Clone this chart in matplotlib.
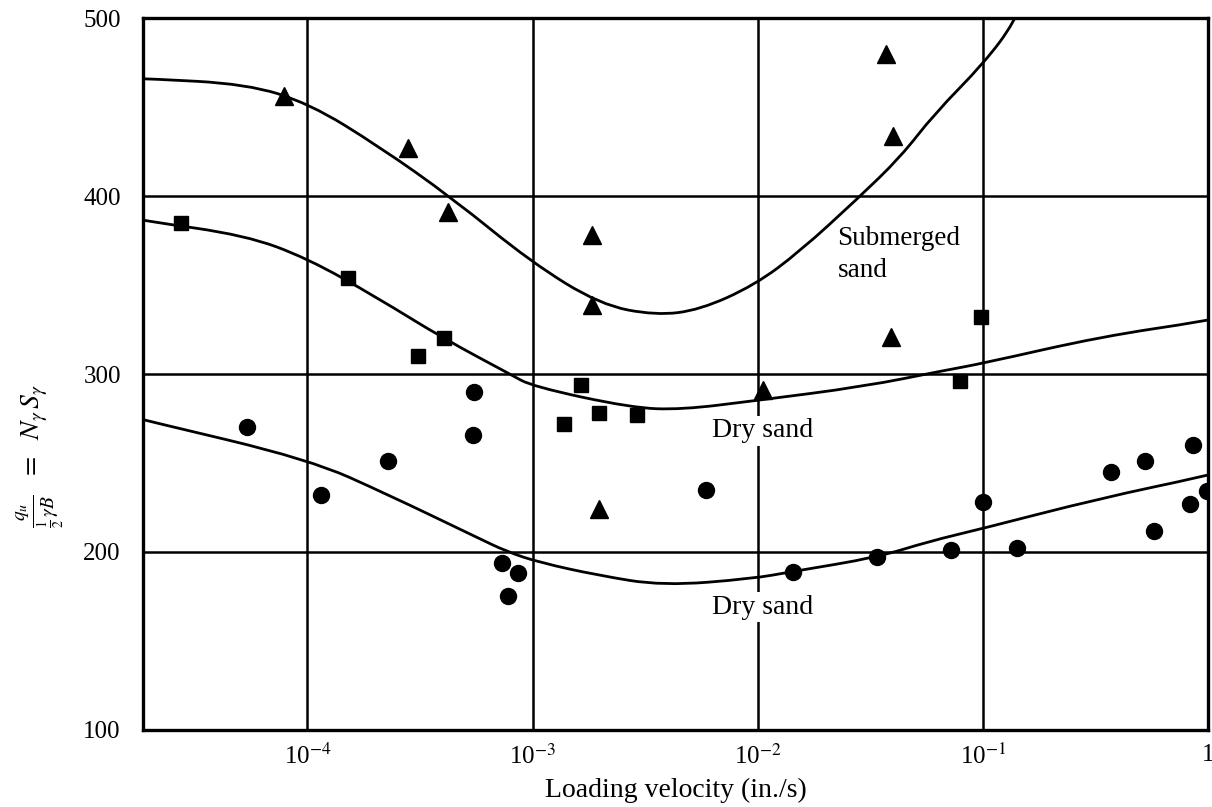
import numpy as np
import matplotlib
matplotlib.use("Agg")
import matplotlib.pyplot as plt
from matplotlib.path import Path
from matplotlib.patches import PathPatch
from matplotlib.ticker import FixedLocator, FixedFormatter, NullLocator

plt.rcParams['font.family'] = ['Liberation Serif', 'DejaVu Serif']
plt.rcParams['mathtext.fontset'] = 'stix'

# ---- data ----
# Submerged sand (triangles)
tri_x = [7.9e-5, 2.8e-4, 4.2e-4, 1.84e-3, 1.84e-3, 1.97e-3, 1.06e-2, 0.037, 0.040, 0.039]
tri_y = [456, 427, 391, 378, 339, 224, 291, 480, 434, 321]

# Dry sand, upper series (squares)
sq_x = [2.74e-5, 1.52e-4, 4.06e-4, 3.1e-4, 1.38e-3, 1.64e-3, 1.97e-3, 2.9e-3, 0.079, 0.098]
sq_y = [385, 354, 320, 310, 272, 294, 278, 277, 296, 332]

# Dry sand, lower series (circles)
ci_x = [5.4e-5, 1.15e-4, 2.28e-4, 5.47e-4, 5.45e-4, 7.3e-4, 8.6e-4, 7.8e-4, 5.9e-3, 0.0143,
        0.034, 0.072, 0.10, 0.142, 0.372, 0.527, 0.574, 0.86, 0.83, 0.99]
ci_y = [270, 232, 251, 290, 266, 194, 188, 175, 235, 189,
        197, 201, 228, 202, 245, 251, 212, 260, 227, 234]

# Hand-drawn trend curves (log10 of velocity)
sub_curve_logx = [-4.75, -4.711, -4.269, -3.991, -3.683, -3.358, -3.007, -2.700, -2.453, -2.258,
                  -2.013, -1.812, -1.561, -1.365, -1.217, -0.993, -0.858, -0.83]
sub_curve_y = [466, 466, 463, 452, 428, 399, 363, 339, 333, 336, 350, 369, 398, 422, 446, 475, 498, 508]

dry_curve_logx = [-4.75, -4.718, -4.276, -3.999, -3.691, -3.396, -3.101, -3.000, -2.559, -2.338,
                  -2.014, -1.527, -1.172, -1.000, -0.476, 0.0, 0.02]
dry_curve_y = [387, 386, 378, 365, 343, 320, 300, 293, 281, 280, 285, 293, 302, 306, 321, 330, 331]

low_curve_logx = [-4.75, -4.72, -3.991, -3.638, -3.260, -3.111, -2.965, -2.713, -2.422, -2.023,
                  -1.846, -1.469, -1.238, -1.007, -0.484, 0.0, 0.02]
low_curve_y = [275, 274, 252, 232, 209, 200, 194, 187, 181, 185, 189, 197, 206, 213, 230, 243, 244]

xtick_vals = [1e-4, 1e-3, 1e-2, 1e-1, 1]
xtick_labels = ['10$^{-4}$', '10$^{-3}$', '10$^{-2}$', '10$^{-1}$', '1']
ytick_vals = [100, 200, 300, 400, 500]
ytick_labels = ['100', '200', '300', '400', '500']


def smooth_curve(ax, logx, y, **kw):
    """Quadratic-Bezier path using the read points as control points."""
    lx = np.asarray(logx, float)
    yy = np.asarray(y, float)
    verts = [(10 ** lx[0], yy[0])]
    codes = [Path.MOVETO]
    for i in range(1, len(lx) - 1):
        mx = 0.5 * (lx[i] + lx[i + 1])
        my = 0.5 * (yy[i] + yy[i + 1])
        if i == len(lx) - 2:
            mx, my = lx[i + 1], yy[i + 1]
        verts += [(10 ** lx[i], yy[i]), (10 ** mx, my)]
        codes += [Path.CURVE3, Path.CURVE3]
    patch = PathPatch(Path(verts, codes), facecolor='none', **kw)
    ax.add_patch(patch)


# ---- figure ----
fig = plt.figure(figsize=(12.12, 8.07), dpi=100)
ax = fig.add_axes([0.118, 0.0955, 0.8787, 0.882])
ax.set_xscale('log')
ax.set_xlim(10 ** -4.73, 1.0)
ax.set_ylim(100, 500)

# grid
for xv in xtick_vals[:-1]:
    ax.axvline(xv, color='black', lw=1.8, zorder=1)
for yv in ytick_vals[1:-1]:
    ax.axhline(yv, color='black', lw=1.8, zorder=1)

# curves
smooth_curve(ax, sub_curve_logx, sub_curve_y, edgecolor='black', lw=2.0, zorder=2)
smooth_curve(ax, dry_curve_logx, dry_curve_y, edgecolor='black', lw=2.0, zorder=2)
smooth_curve(ax, low_curve_logx, low_curve_y, edgecolor='black', lw=2.0, zorder=2)

# points
ax.plot(tri_x, tri_y, linestyle='none', marker='^', markersize=13, color='black', zorder=4)
ax.plot(sq_x, sq_y, linestyle='none', marker='s', markersize=10, color='black', zorder=4)
ax.plot(ci_x, ci_y, linestyle='none', marker='o', markersize=11.5, color='black', zorder=4)

# labels inside
bbox = dict(facecolor='white', edgecolor='none', pad=2)
ax.text(0.0226, 367, 'Submerged\nsand', fontsize=19.5, ha='left', va='center',
        linespacing=1.35, zorder=5, bbox=bbox)
ax.text(0.0105, 268, 'Dry sand', fontsize=20, ha='center', va='center', zorder=5, bbox=bbox)
ax.text(0.0105, 169, 'Dry sand', fontsize=20, ha='center', va='center', zorder=5, bbox=bbox)

# axes styling
for s in ax.spines.values():
    s.set_linewidth(2.4)
    s.set_color('black')
ax.xaxis.set_major_locator(FixedLocator(xtick_vals))
ax.xaxis.set_major_formatter(FixedFormatter(xtick_labels))
ax.xaxis.set_minor_locator(NullLocator())
ax.yaxis.set_major_locator(FixedLocator(ytick_vals))
ax.yaxis.set_major_formatter(FixedFormatter(ytick_labels))
ax.tick_params(axis='both', length=0, labelsize=18, colors='black')
ax.tick_params(axis='x', pad=10)
ax.tick_params(axis='y', pad=16)

ax.set_xlabel('Loading velocity (in./s)', fontsize=20, labelpad=6)
ax.set_ylabel(r'$\frac{q_u}{\frac{1}{2}\,\gamma B}\ \ =\ \ N_\gamma\, S_\gamma$', fontsize=20)
ax.yaxis.set_label_coords(-0.072, 0.385)

fig.savefig('out.png', dpi=100, facecolor='white')
